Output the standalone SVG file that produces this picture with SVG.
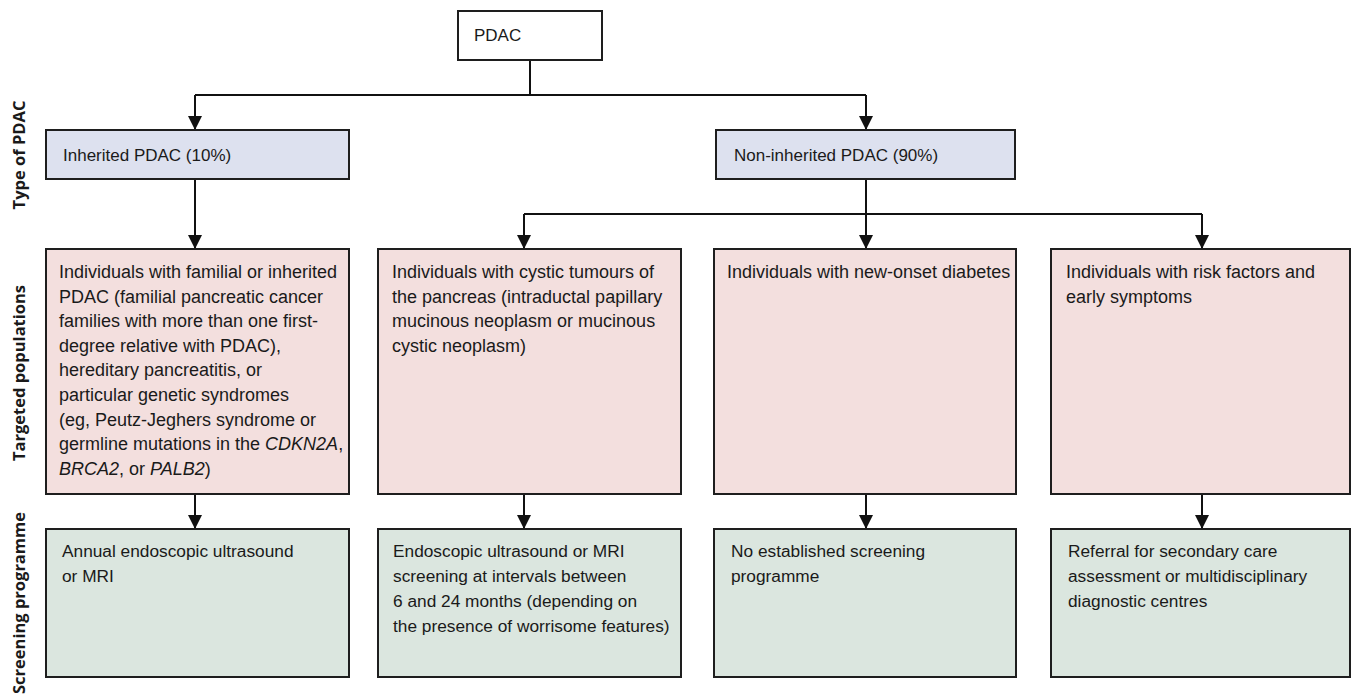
<svg xmlns="http://www.w3.org/2000/svg" width="1356" height="696" viewBox="0 0 1356 696">
<defs>
<style>
.box{stroke:#1e1e1e;stroke-width:2}
.top{fill:#ffffff}
.blue{fill:#dde1ef}
.pink{fill:#f3dfde}
.green{fill:#dbe6df}
.t{font-family:"Liberation Sans",Arial,sans-serif;fill:#1a1a1a}
.hd{font-size:17px}
.pk{font-size:18px}
.gr{font-size:17.3px}
.lab{font-family:"Open Sans","DejaVu Sans",sans-serif;font-weight:700;font-size:16.5px;fill:#1a1a1a;text-anchor:middle}
.con{fill:none;stroke:#111;stroke-width:2}
.it{font-style:italic}
</style>
<marker id="arr" viewBox="0 0 14 14" refX="14" refY="7" markerWidth="14" markerHeight="14" markerUnits="userSpaceOnUse" orient="auto">
<path d="M0,0 L14,7 L0,14 Z" fill="#111"/>
</marker>
</defs>
<rect width="1356" height="696" fill="#ffffff"/>

<g id="labels">
<text class="lab" transform="translate(25,155) rotate(-90)">Type of PDAC</text>
<text class="lab" transform="translate(25,373) rotate(-90)">Targeted populations</text>
<text class="lab" transform="translate(25,603) rotate(-90)">Screening programme</text>
</g>

<g id="connectors">
<path class="con" d="M530,60 V95 M195,95 H866"/>
<path class="con" d="M195,95 V130" marker-end="url(#arr)"/>
<path class="con" d="M866,95 V130" marker-end="url(#arr)"/>
<path class="con" d="M195,179 V249" marker-end="url(#arr)"/>
<path class="con" d="M866,179 V214 M524,214 H1202"/>
<path class="con" d="M524,214 V249" marker-end="url(#arr)"/>
<path class="con" d="M866,214 V249" marker-end="url(#arr)"/>
<path class="con" d="M1202,214 V249" marker-end="url(#arr)"/>
<path class="con" d="M195,494 V529" marker-end="url(#arr)"/>
<path class="con" d="M524,494 V529" marker-end="url(#arr)"/>
<path class="con" d="M866,494 V529" marker-end="url(#arr)"/>
<path class="con" d="M1202,494 V529" marker-end="url(#arr)"/>
</g>

<g id="pdac">
<rect class="box top" x="458" y="11" width="144" height="49"/>
<text class="t hd" x="474" y="41">PDAC</text>
</g>

<g id="inherited">
<rect class="box blue" x="46" y="130" width="303" height="49"/>
<text class="t hd" x="63" y="161">Inherited PDAC (10%)</text>
</g>

<g id="noninherited">
<rect class="box blue" x="716" y="130" width="299" height="49"/>
<text class="t hd" x="734" y="161">Non-inherited PDAC (90%)</text>
</g>

<g id="pop-familial">
<rect class="box pink" x="46" y="249" width="303" height="245"/>
<text class="t pk">
<tspan x="59" y="278">Individuals with familial or inherited</tspan>
<tspan x="59" y="302.6">PDAC (familial pancreatic cancer</tspan>
<tspan x="59" y="327.2">families with more than one first-</tspan>
<tspan x="59" y="351.8">degree relative with PDAC),</tspan>
<tspan x="59" y="376.4">hereditary pancreatitis, or</tspan>
<tspan x="59" y="401">particular genetic syndromes</tspan>
<tspan x="59" y="425.6">(eg, Peutz-Jeghers syndrome or</tspan>
<tspan x="59" y="450.2">germline mutations in the <tspan class="it">CDKN2A</tspan>,</tspan>
<tspan x="59" y="474.8"><tspan class="it">BRCA2</tspan>, or <tspan class="it">PALB2</tspan>)</tspan>
</text>
</g>

<g id="pop-cystic">
<rect class="box pink" x="378" y="249" width="303" height="245"/>
<text class="t pk">
<tspan x="392" y="278">Individuals with cystic tumours of</tspan>
<tspan x="392" y="302.6">the pancreas (intraductal papillary</tspan>
<tspan x="392" y="327.2">mucinous neoplasm or mucinous</tspan>
<tspan x="392" y="351.8">cystic neoplasm)</tspan>
</text>
</g>

<g id="pop-diabetes">
<rect class="box pink" x="714" y="249" width="302" height="245"/>
<text class="t pk"><tspan x="727" y="278">Individuals with new-onset diabetes</tspan></text>
</g>

<g id="pop-risk">
<rect class="box pink" x="1051" y="249" width="299" height="245"/>
<text class="t pk">
<tspan x="1066" y="278">Individuals with risk factors and</tspan>
<tspan x="1066" y="302.6">early symptoms</tspan>
</text>
</g>

<g id="scr-annual">
<rect class="box green" x="46" y="529" width="303" height="148"/>
<text class="t gr">
<tspan x="62" y="557">Annual endoscopic ultrasound</tspan>
<tspan x="62" y="582">or MRI</tspan>
</text>
</g>

<g id="scr-cystic">
<rect class="box green" x="378" y="529" width="303" height="148"/>
<text class="t gr">
<tspan x="393" y="557">Endoscopic ultrasound or MRI</tspan>
<tspan x="393" y="582">screening at intervals between</tspan>
<tspan x="393" y="607">6 and 24 months (depending on</tspan>
<tspan x="393" y="632">the presence of worrisome features)</tspan>
</text>
</g>

<g id="scr-none">
<rect class="box green" x="714" y="529" width="302" height="148"/>
<text class="t gr">
<tspan x="731" y="557">No established screening</tspan>
<tspan x="731" y="582">programme</tspan>
</text>
</g>

<g id="scr-referral">
<rect class="box green" x="1051" y="529" width="299" height="148"/>
<text class="t gr">
<tspan x="1068" y="557">Referral for secondary care</tspan>
<tspan x="1068" y="582">assessment or multidisciplinary</tspan>
<tspan x="1068" y="607">diagnostic centres</tspan>
</text>
</g>
</svg>
